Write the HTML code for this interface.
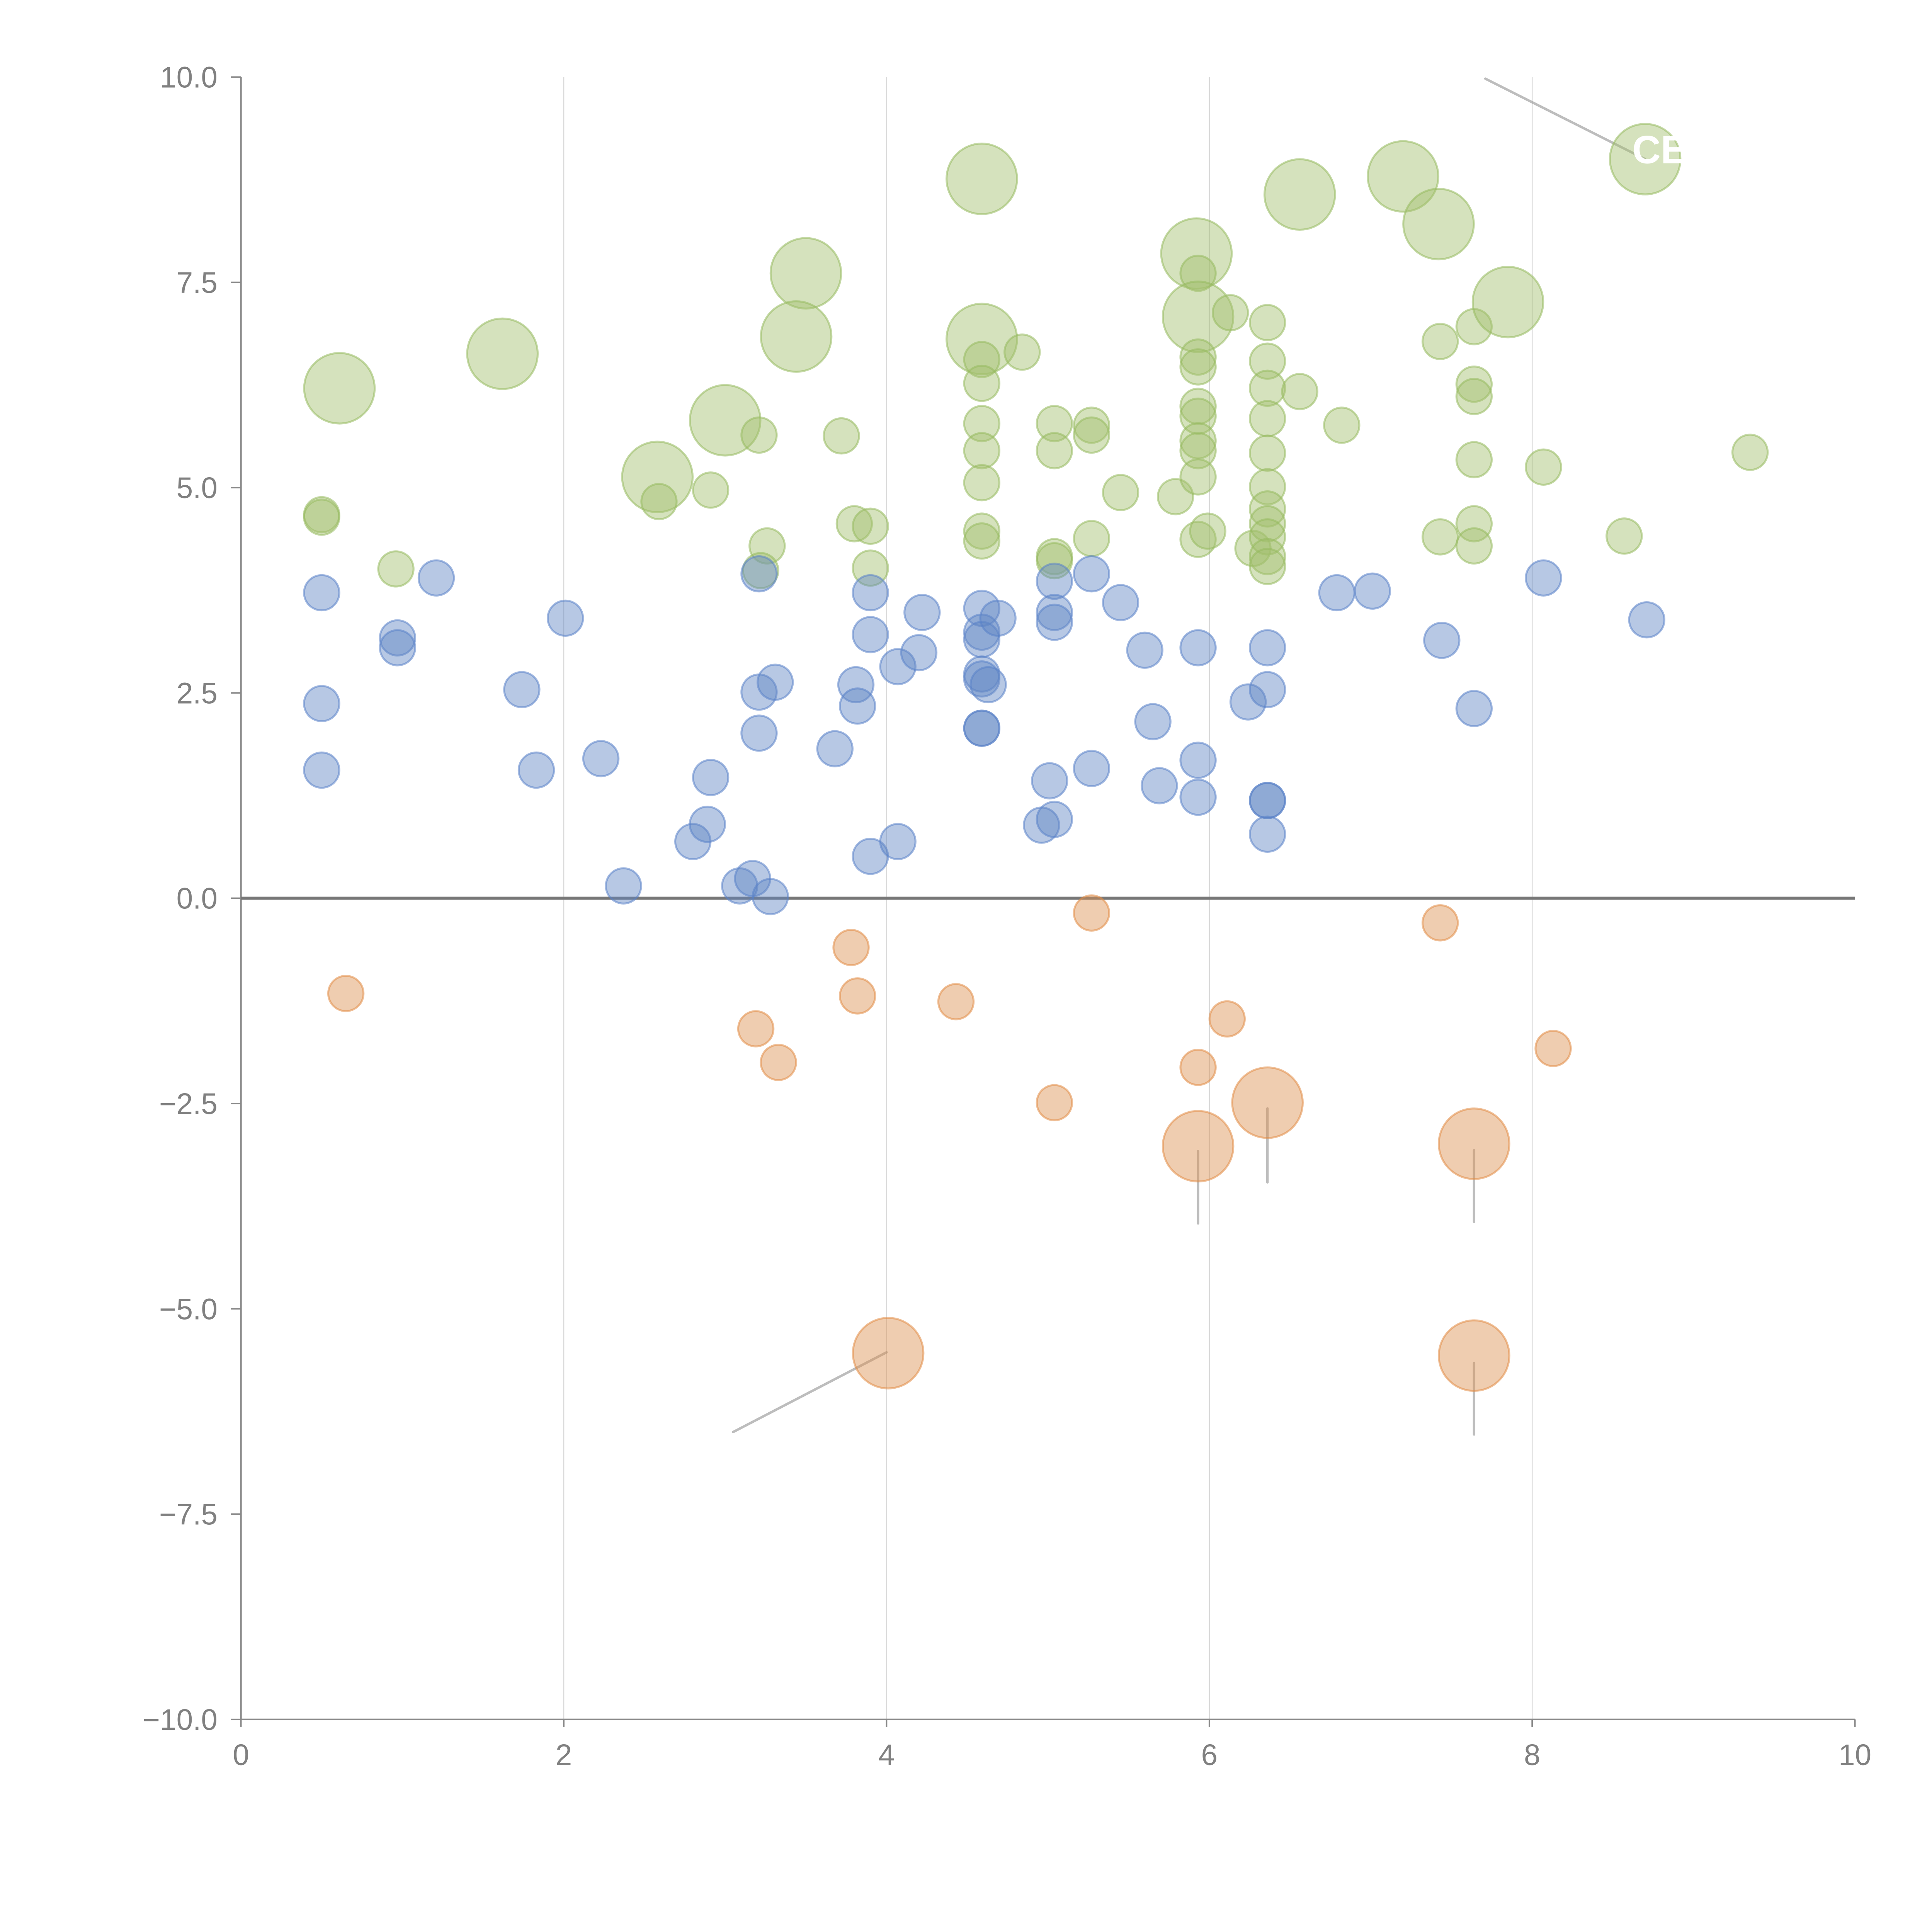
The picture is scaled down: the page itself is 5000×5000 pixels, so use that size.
<!DOCTYPE html>
<html><head><meta charset="utf-8"><style>
html,body{margin:0;padding:0;background:#fff;}
svg{display:block;}
text{font-family:"Liberation Sans",Arial,sans-serif;}
</style></head><body>
<svg id="chart" width="5000" height="5000" viewBox="0 0 1567.5 1567.5" xmlns="http://www.w3.org/2000/svg">
<g id="grid"></g>
<g id="axes"></g>
<g id="annos"></g>
<g id="marks"></g>
<g id="labels"></g>
</svg>
<script>
const xTicks = [0, 2, 4, 6, 8, 10];
const yTicks = [-10, -7.5, -5, -2.5, 0, 2.5, 5, 7.5, 10];
const yTickLabels = ["\u221210.0", "\u22127.5", "\u22125.0", "\u22122.5", "0.0", "2.5", "5.0", "7.5", "10.0"];

const greenX = [0.61,1.62,0.50,0.50,0.96,2.58,2.59,2.91,3.00,3.21,3.26,3.22,3.50,3.44,3.72,3.80,3.90,3.90,4.59,4.59,4.59,4.59,4.59,4.59,4.59,4.59,4.59,4.84,5.04,5.04,5.04,5.04,5.27,5.27,5.27,5.45,5.79,5.92,5.93,5.93,5.93,5.93,5.93,5.93,5.93,5.93,5.93,5.93,5.99,6.13,6.27,6.36,6.36,6.36,6.36,6.36,6.36,6.36,6.36,6.36,6.36,6.36,6.56,6.56,6.82,7.20,7.42,7.43,7.43,7.64,7.64,7.64,7.64,7.64,7.64,7.85,8.07,8.57,8.70,9.35];
const greenY = [6.21,6.63,4.67,4.64,4.01,5.13,4.83,4.97,5.82,5.64,4.29,3.99,7.61,6.84,5.63,4.56,4.53,4.02,8.76,6.81,6.56,6.27,5.78,5.45,5.06,4.47,4.35,6.65,5.78,5.45,4.16,4.11,5.76,5.64,4.38,4.94,4.89,7.85,7.61,7.08,6.59,6.47,5.99,5.87,5.57,5.45,5.13,4.37,4.47,7.13,4.26,7.01,6.54,6.21,5.84,5.42,5.01,4.74,4.56,4.40,4.16,4.04,6.17,8.57,5.76,8.79,8.21,6.78,4.40,6.96,6.26,6.11,5.34,4.56,4.29,7.26,5.25,4.41,9.00,5.43];
const greenSize = [4,4,1,1,1,4,1,1,4,1,1,1,4,4,1,1,1,1,4,4,1,1,1,1,1,1,1,1,1,1,1,1,1,1,1,1,1,4,1,4,1,1,1,1,1,1,1,1,1,1,1,1,1,1,1,1,1,1,1,1,1,1,1,4,1,4,4,1,1,1,1,1,1,1,1,4,1,1,4,1];

const blueX = [0.50,0.50,0.50,0.97,0.97,1.21,1.74,1.83,2.01,2.23,2.37,2.80,2.89,2.91,3.09,3.17,3.28,3.21,3.21,3.21,3.31,3.68,3.81,3.82,3.90,3.90,3.90,4.07,4.07,4.20,4.22,4.59,4.59,4.59,4.59,4.59,4.59,4.59,4.63,4.69,4.96,5.01,5.04,5.04,5.04,5.04,5.27,5.27,5.45,5.60,5.65,5.69,5.93,5.93,5.93,6.24,6.36,6.36,6.36,6.36,6.36,6.79,7.01,7.44,7.64,8.07,8.71];
const blueY = [3.72,2.37,1.56,3.17,3.05,3.90,2.54,1.56,3.41,1.70,0.15,0.69,0.90,1.47,0.15,0.24,0.02,3.95,2.51,2.01,2.63,1.82,2.60,2.34,3.72,3.21,0.51,2.82,0.69,2.99,3.48,3.53,3.24,3.15,2.73,2.67,2.07,2.07,2.60,3.41,0.89,1.43,3.86,3.48,3.36,0.96,3.95,1.58,3.60,3.02,2.15,1.37,3.05,1.68,1.23,2.39,3.05,2.54,1.19,1.19,0.78,3.72,3.74,3.14,2.31,3.90,3.39];

const orangeX = [0.65,3.19,3.33,3.78,3.82,4.01,4.43,5.04,5.27,5.93,5.93,6.11,6.36,7.43,7.64,7.64,8.13];
const orangeY = [-1.16,-1.59,-2.00,-0.60,-1.19,-5.54,-1.26,-2.49,-0.18,-2.06,-3.02,-1.47,-2.49,-0.30,-2.99,-5.57,-1.83];
const orangeSize = [1,1,1,1,1,4,1,1,1,1,4,1,4,1,4,4,1];

const NS = "http://www.w3.org/2000/svg";
const X0 = 195.5, X1 = 1505, Y0 = 1395, Y1 = 62.5;
function sx(v){ return X0 + v / 10 * (X1 - X0); }
function sy(v){ return Y0 - (v + 10) / 20 * (Y0 - Y1); }
function mk(tag, attrs, parent){
  const e = document.createElementNS(NS, tag);
  for (const k in attrs) e.setAttribute(k, attrs[k]);
  parent.appendChild(e);
  return e;
}
const grid = document.getElementById('grid');
const axes = document.getElementById('axes');
const marks = document.getElementById('marks');
const annos = document.getElementById('annos');
const labels = document.getElementById('labels');

xTicks.forEach(t => {
  if (t > 0 && t < 10) {
    const g = mk('line', {x1: sx(t), x2: sx(t), y1: Y1, y2: Y0, stroke: '#d8d8d8', 'stroke-width': 0.8}, grid);
    
    
  }
  const tk = mk('line', {x1: sx(t), x2: sx(t), y1: Y0, y2: Y0 + 6, stroke: '#888', 'stroke-width': 1.2}, axes);
  
  
  const tx = mk('text', {x: sx(t), y: Y0 + 37, 'text-anchor': 'middle', 'font-size': 24, fill: '#808080'}, axes);
  tx.textContent = String(t);
  
  
});
yTicks.forEach((t, i) => {
  const tk = mk('line', {x1: X0 - 8, x2: X0, y1: sy(t), y2: sy(t), stroke: '#888', 'stroke-width': 1.2}, axes);
  
  
  const tx = mk('text', {x: X0 - 19, y: sy(t) + 8.5, 'text-anchor': 'end', 'font-size': 24, fill: '#808080'}, axes);
  tx.textContent = yTickLabels[i];
  
  
});
const ya = mk('line', {x1: X0, x2: X0, y1: Y1, y2: Y0, stroke: '#888', 'stroke-width': 1.3}, axes);


const xa = mk('line', {x1: X0, x2: X1, y1: Y0, y2: Y0, stroke: '#888', 'stroke-width': 1.3}, axes);


const zl = mk('line', {x1: X0, x2: X1, y1: sy(0), y2: sy(0), stroke: '#777', 'stroke-width': 2.5}, axes);



function drawSeries(xs, ys, sizes, fill, stroke, name){
  xs.forEach((x, i) => {
    const s = sizes ? sizes[i] : 1;
    const r = 14.3 * Math.sqrt(s);
    const e = mk('circle', {cx: sx(x), cy: sy(ys[i]), r: r, fill: fill, 'fill-opacity': 0.45, stroke: stroke, 'stroke-opacity': 0.55, 'stroke-width': 1.6}, marks);
    
    
  });
}
drawSeries(greenX, greenY, greenSize, 'rgb(162,191,108)', 'rgb(150,185,95)', 'bubble-positive-high');
drawSeries(blueX, blueY, null, 'rgb(95,133,195)', 'rgb(90,130,200)', 'bubble-positive-low');
drawSeries(orangeX, orangeY, orangeSize, 'rgb(219,144,79)', 'rgb(225,140,70)', 'bubble-negative');

const annoFrom = [[7.71,9.98],[4.0,-5.53],[5.93,-3.08],[6.36,-2.56],[7.64,-3.07],[7.64,-5.66]];
const annoTo = [[8.7,9.0],[3.05,-6.5],[5.93,-3.96],[6.36,-3.46],[7.64,-3.94],[7.64,-6.53]];
annoFrom.forEach((p, i) => {
  const l = mk('line', {x1: sx(p[0]), y1: sy(p[1]), x2: sx(annoTo[i][0]), y2: sy(annoTo[i][1]), stroke: '#999', 'stroke-opacity': 0.65, 'stroke-width': 2, 'stroke-linecap': 'round'}, annos);
  
  
});

const lbl = mk('text', {x: sx(8.62), y: sy(8.95), 'font-size': 32, 'font-weight': 'bold', fill: '#fff'}, labels);
lbl.textContent = 'CE';


</script>
</body></html>
